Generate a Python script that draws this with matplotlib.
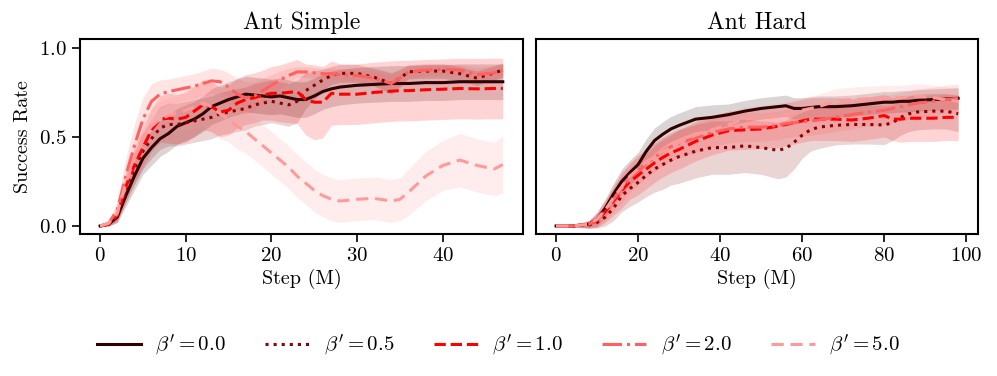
import numpy as np
import matplotlib
matplotlib.use('Agg')
import matplotlib.pyplot as plt

plt.rcParams['font.family'] = 'serif'
plt.rcParams['font.serif'] = ['cmr10', 'DejaVu Serif']
plt.rcParams['mathtext.fontset'] = 'cm'
plt.rcParams['axes.formatter.use_mathtext'] = True

labels = [r"$\beta' = 0.0$", r"$\beta' = 0.5$", r"$\beta' = 1.0$",
          r"$\beta' = 2.0$", r"$\beta' = 5.0$"]
colors = ['#2e0000', '#8b0000', '#ff0000', '#ff6161', '#ff9a9a']

# ---- Ant Simple ----
x_simple = [0, 1, 2, 3, 4, 5, 6, 7, 8, 9, 10, 11, 12, 13, 14, 15, 16, 17, 18, 19,
            20, 21, 22, 23, 24, 25, 26, 27, 28, 30, 32, 34, 35, 36, 38, 40, 42, 44, 46, 47]
simple_b00 = [0.0, 0.01, 0.05, 0.17, 0.28, 0.38, 0.44, 0.49, 0.52, 0.56, 0.58, 0.6, 0.63,
              0.67, 0.69, 0.71, 0.725, 0.74, 0.735, 0.73, 0.725, 0.73, 0.72, 0.71, 0.71,
              0.73, 0.755, 0.77, 0.78, 0.79, 0.795, 0.8, 0.8, 0.8, 0.805, 0.805, 0.81,
              0.81, 0.81, 0.81]
simple_b05 = [0.0, 0.01, 0.055, 0.2, 0.32, 0.42, 0.49, 0.55, 0.57, 0.57, 0.58, 0.59, 0.6,
              0.61, 0.63, 0.64, 0.65, 0.66, 0.68, 0.69, 0.7, 0.69, 0.68, 0.7, 0.76, 0.79,
              0.82, 0.845, 0.857, 0.857, 0.835, 0.8, 0.83, 0.866, 0.87, 0.87, 0.855, 0.83,
              0.86, 0.875]
simple_b10 = [0.0, 0.01, 0.06, 0.22, 0.34, 0.44, 0.54, 0.6, 0.605, 0.6, 0.61, 0.645, 0.68,
              0.67, 0.64, 0.65, 0.69, 0.71, 0.72, 0.735, 0.745, 0.745, 0.75, 0.755, 0.71,
              0.695, 0.695, 0.745, 0.74, 0.74, 0.75, 0.757, 0.76, 0.76, 0.765, 0.768,
              0.772, 0.77, 0.772, 0.772]
simple_b20 = [0.0, 0.015, 0.09, 0.28, 0.45, 0.6, 0.7, 0.74, 0.755, 0.765, 0.775, 0.785,
              0.8, 0.815, 0.81, 0.78, 0.74, 0.72, 0.73, 0.76, 0.79, 0.82, 0.845, 0.865,
              0.865, 0.86, 0.855, 0.855, 0.85, 0.845, 0.83, 0.8, 0.83, 0.865, 0.875, 0.88,
              0.875, 0.85, 0.86, 0.875]
simple_b50 = [0.0, 0.015, 0.07, 0.24, 0.38, 0.5, 0.56, 0.6, 0.62, 0.635, 0.65, 0.67, 0.69,
              0.67, 0.63, 0.6, 0.56, 0.53, 0.49, 0.45, 0.41, 0.37, 0.33, 0.28, 0.24, 0.2,
              0.17, 0.15, 0.14, 0.15, 0.155, 0.14, 0.15, 0.19, 0.28, 0.34, 0.37, 0.34,
              0.32, 0.345]
simple_sd00 = [0.005, 0.01, 0.03, 0.06, 0.08, 0.09, 0.1, 0.1, 0.1, 0.1, 0.1, 0.1, 0.1,
               0.1, 0.1, 0.1, 0.1, 0.1, 0.1, 0.1, 0.1, 0.1, 0.1, 0.1, 0.1, 0.1, 0.1, 0.1,
               0.1, 0.1, 0.1, 0.1, 0.1, 0.1, 0.1, 0.1, 0.1, 0.1, 0.1, 0.1]
simple_sd05 = [0.005, 0.01, 0.03, 0.07, 0.09, 0.1, 0.11, 0.12, 0.12, 0.12, 0.12, 0.12,
               0.12, 0.12, 0.12, 0.12, 0.12, 0.12, 0.12, 0.12, 0.12, 0.12, 0.12, 0.12,
               0.1, 0.08, 0.06, 0.05, 0.05, 0.05, 0.05, 0.06, 0.05, 0.04, 0.04, 0.04,
               0.04, 0.04, 0.04, 0.04]
simple_sd10 = [0.005, 0.01, 0.04, 0.08, 0.1, 0.11, 0.12, 0.13, 0.14, 0.14, 0.14, 0.14,
               0.14, 0.14, 0.14, 0.14, 0.14, 0.14, 0.14, 0.14, 0.15, 0.16, 0.17, 0.18,
               0.2, 0.21, 0.2, 0.18, 0.17, 0.17, 0.17, 0.17, 0.17, 0.17, 0.17, 0.17, 0.17,
               0.17, 0.17, 0.17]
simple_sd20 = [0.005, 0.015, 0.05, 0.1, 0.12, 0.12, 0.1, 0.08, 0.07, 0.07, 0.07, 0.07,
               0.07, 0.07, 0.07, 0.08, 0.09, 0.09, 0.08, 0.07, 0.06, 0.05, 0.04, 0.03,
               0.03, 0.03, 0.03, 0.03, 0.03, 0.03, 0.04, 0.05, 0.04, 0.03, 0.03, 0.03,
               0.03, 0.04, 0.04, 0.03]
simple_sd50 = [0.005, 0.015, 0.05, 0.1, 0.11, 0.1, 0.1, 0.1, 0.1, 0.1, 0.11, 0.12, 0.13,
               0.14, 0.14, 0.13, 0.13, 0.12, 0.12, 0.12, 0.12, 0.12, 0.12, 0.12, 0.12,
               0.12, 0.12, 0.12, 0.12, 0.12, 0.12, 0.12, 0.12, 0.13, 0.14, 0.14, 0.15,
               0.15, 0.15, 0.16]

# ---- Ant Hard ----
x_hard = [0, 4, 8, 10, 12, 14, 16, 18, 20, 22, 24, 26, 28, 30, 34, 38, 42, 46, 50, 54,
          56, 58, 60, 62, 64, 68, 72, 76, 80, 82, 84, 86, 88, 92, 95, 98]
hard_b00 = [0.0, 0.0, 0.01, 0.04, 0.1, 0.18, 0.25, 0.3, 0.345, 0.42, 0.48, 0.515, 0.545,
            0.565, 0.6, 0.61, 0.625, 0.645, 0.66, 0.67, 0.675, 0.66, 0.66, 0.665, 0.67,
            0.67, 0.675, 0.685, 0.695, 0.695, 0.7, 0.7, 0.705, 0.71, 0.713, 0.717]
hard_b05 = [0.0, 0.0, 0.005, 0.02, 0.05, 0.1, 0.17, 0.21, 0.245, 0.285, 0.32, 0.345, 0.37,
            0.39, 0.42, 0.44, 0.44, 0.45, 0.44, 0.425, 0.435, 0.47, 0.51, 0.54, 0.555,
            0.565, 0.57, 0.57, 0.567, 0.58, 0.61, 0.63, 0.64, 0.645, 0.645, 0.63]
hard_b10 = [0.0, 0.0, 0.01, 0.03, 0.08, 0.14, 0.2, 0.25, 0.285, 0.32, 0.355, 0.385, 0.41,
            0.43, 0.475, 0.51, 0.535, 0.54, 0.545, 0.56, 0.57, 0.58, 0.59, 0.6, 0.6, 0.6,
            0.595, 0.605, 0.62, 0.6, 0.6, 0.605, 0.605, 0.605, 0.61, 0.61]
hard_b20 = [0.0, 0.0, 0.01, 0.035, 0.09, 0.15, 0.21, 0.27, 0.31, 0.35, 0.385, 0.42, 0.445,
            0.465, 0.495, 0.525, 0.545, 0.555, 0.555, 0.565, 0.575, 0.58, 0.585, 0.59,
            0.595, 0.61, 0.625, 0.64, 0.65, 0.66, 0.67, 0.68, 0.69, 0.7, 0.71, 0.717]
hard_b50 = [0.0, 0.0, 0.01, 0.04, 0.09, 0.16, 0.22, 0.28, 0.32, 0.36, 0.39, 0.42, 0.44,
            0.47, 0.51, 0.54, 0.57, 0.6, 0.61, 0.62, 0.63, 0.64, 0.65, 0.66, 0.67, 0.7,
            0.71, 0.715, 0.72, 0.72, 0.72, 0.725, 0.73, 0.72, 0.71, 0.7]
hard_sd00 = [0.005, 0.005, 0.02, 0.04, 0.05, 0.06, 0.07, 0.07, 0.07, 0.07, 0.07, 0.07,
             0.07, 0.07, 0.07, 0.07, 0.06, 0.06, 0.06, 0.06, 0.06, 0.06, 0.06, 0.06,
             0.06, 0.06, 0.06, 0.06, 0.06, 0.06, 0.06, 0.06, 0.06, 0.06, 0.06, 0.06]
hard_sd05 = [0.005, 0.005, 0.02, 0.03, 0.05, 0.07, 0.09, 0.1, 0.11, 0.12, 0.13, 0.14,
             0.14, 0.15, 0.15, 0.15, 0.15, 0.15, 0.15, 0.16, 0.16, 0.15, 0.13, 0.12,
             0.12, 0.11, 0.11, 0.11, 0.11, 0.1, 0.1, 0.1, 0.1, 0.1, 0.1, 0.1]
hard_sd10 = [0.005, 0.005, 0.02, 0.04, 0.06, 0.08, 0.1, 0.1, 0.11, 0.11, 0.11, 0.11, 0.11,
             0.11, 0.11, 0.11, 0.11, 0.11, 0.11, 0.12, 0.12, 0.12, 0.12, 0.12, 0.12,
             0.12, 0.12, 0.12, 0.12, 0.12, 0.13, 0.13, 0.13, 0.13, 0.13, 0.13]
hard_sd20 = [0.005, 0.005, 0.02, 0.04, 0.06, 0.07, 0.08, 0.08, 0.08, 0.08, 0.08, 0.08,
             0.08, 0.08, 0.08, 0.08, 0.08, 0.08, 0.08, 0.08, 0.08, 0.08, 0.08, 0.08,
             0.08, 0.08, 0.08, 0.08, 0.08, 0.08, 0.08, 0.08, 0.08, 0.08, 0.08, 0.08]
hard_sd50 = [0.005, 0.005, 0.02, 0.04, 0.06, 0.07, 0.08, 0.08, 0.08, 0.08, 0.08, 0.08,
             0.08, 0.08, 0.08, 0.07, 0.07, 0.07, 0.07, 0.07, 0.07, 0.07, 0.07, 0.07,
             0.07, 0.07, 0.07, 0.07, 0.07, 0.07, 0.07, 0.07, 0.07, 0.07, 0.07, 0.07]

styles = ['-', ':', (0, (3.7, 1.6)), '-.', (0, (4, 2.2))]

panels = [
    {'title': 'Ant Simple', 'x': x_simple,
     'means': [simple_b00, simple_b05, simple_b10, simple_b20, simple_b50],
     'sds': [simple_sd00, simple_sd05, simple_sd10, simple_sd20, simple_sd50]},
    {'title': 'Ant Hard', 'x': x_hard,
     'means': [hard_b00, hard_b05, hard_b10, hard_b20, hard_b50],
     'sds': [hard_sd00, hard_sd05, hard_sd10, hard_sd20, hard_sd50]},
]

fig = plt.figure(figsize=(9.97, 3.76), dpi=100)
ax1 = fig.add_axes([0.0802, 0.3777, 0.4443, 0.5186])
ax2 = fig.add_axes([0.5376, 0.3777, 0.4436, 0.5186], sharey=ax1)

for ax, panel in zip([ax1, ax2], panels):
    x = np.array(panel['x'])
    for i in range(5):
        m = np.array(panel['means'][i])
        s = np.array(panel['sds'][i])
        ax.fill_between(x, m - s, m + s, color=colors[i], alpha=0.17, linewidth=0)
        ax.plot(x, m, color=colors[i], linestyle=styles[i], linewidth=2.2,
                label=labels[i])
    ax.set_title(panel['title'], fontsize=17, pad=7)
    ax.set_xlabel('Step (M)', fontsize=14.5, labelpad=3)
    ax.tick_params(labelsize=15, length=6, width=1.2, direction='out')
    for sp in ax.spines.values():
        sp.set_linewidth(1.5)

ax1.set_ylim(-0.045, 1.05)
ax1.set_yticks([0.0, 0.5, 1.0])
ax1.set_xticks([0, 10, 20, 30, 40])
ax1.set_ylabel('Success Rate', fontsize=14.5, labelpad=5)
ax2.set_xticks([0, 20, 40, 60, 80, 100])
ax2.tick_params(left=False, labelleft=False)

handles, labs = ax1.get_legend_handles_labels()
fig.legend(handles, labs, loc='center', bbox_to_anchor=(0.5, 0.08), ncol=5,
           frameon=False, fontsize=15, handlelength=2.1, handletextpad=0.7,
           columnspacing=1.9)

plt.savefig('out.png', dpi=100)
